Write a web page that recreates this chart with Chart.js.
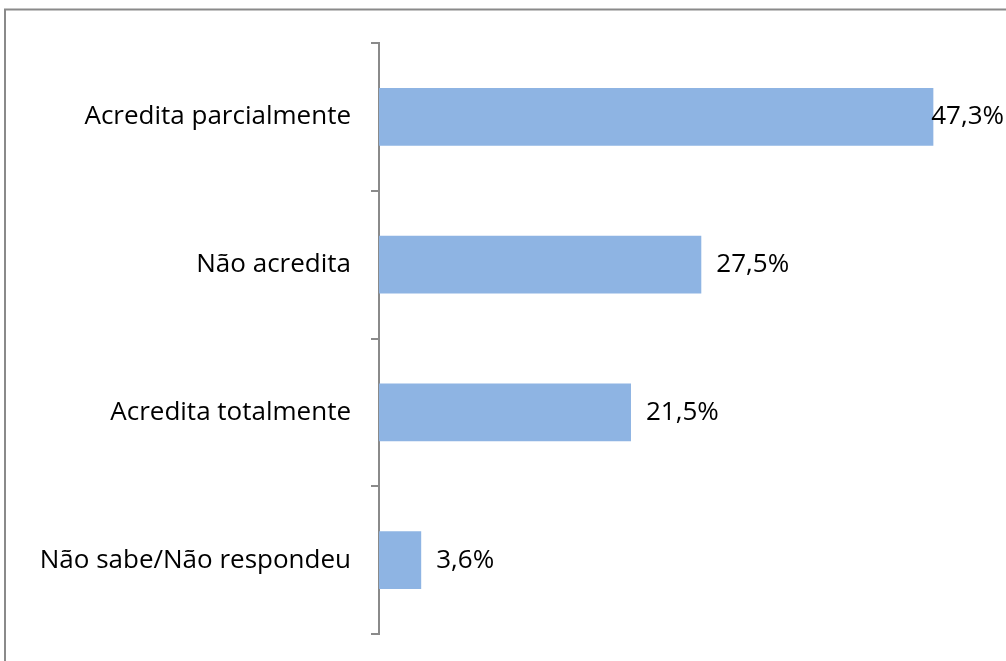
<!DOCTYPE html>
<html lang="pt">
<head>
    <meta charset="UTF-8">
    <title>Acredita</title>
    <script src="https://cdn.jsdelivr.net/npm/chart.js"></script>
    <style>
        html, body { margin: 0; padding: 0; background: #fff; }
        #wrap { width: 1006px; height: 661px; position: relative; }
    </style>
</head>
<body>
    <div id="wrap"><canvas id="chart"></canvas></div>
    <script>
        // Dados do gráfico
        const categories = ['Acredita parcialmente', 'Não acredita', 'Acredita totalmente', 'Não sabe/Não respondeu'];
        const values = [47.3, 27.5, 21.5, 3.6];
        const valueLabels = ['47,3%', '27,5%', '21,5%', '3,6%'];

        const fontFamily = '"Open Sans", Lato, sans-serif';
        const fontSize = 26;

        // Moldura cinza em volta do gráfico
        const framePlugin = {
            id: 'frame',
            beforeDraw(chart) {
                const ctx = chart.ctx;
                ctx.save();
                ctx.strokeStyle = '#8a8a8a';
                ctx.lineWidth = 2;
                ctx.strokeRect(5, 9.5, 1100, 800);
                ctx.restore();
            }
        };

        // Rótulos de valor ao lado das barras
        const valueLabelPlugin = {
            id: 'valueLabels',
            afterDatasetsDraw(chart) {
                const ctx = chart.ctx;
                const meta = chart.getDatasetMeta(0);
                ctx.save();
                ctx.font = fontSize + 'px ' + fontFamily;
                ctx.fillStyle = '#000';
                ctx.textBaseline = 'middle';
                ctx.textAlign = 'left';
                meta.data.forEach((bar, i) => {
                    const txt = valueLabels[i];
                    const w = ctx.measureText(txt).width;
                    const x = Math.min(bar.x + 15, chart.width - w - 2);
                    ctx.fillText(txt, x, bar.y);
                });
                ctx.restore();
            }
        };

        new Chart(document.getElementById('chart'), {
            type: 'bar',
            data: {
                labels: categories,
                datasets: [{
                    data: values,
                    backgroundColor: '#8eb4e3',
                    borderWidth: 0,
                    barPercentage: 0.78,
                    categoryPercentage: 0.5
                }]
            },
            options: {
                indexAxis: 'y',
                responsive: true,
                maintainAspectRatio: false,
                animation: false,
                layout: {
                    padding: { top: 43, bottom: 27, left: 0, right: 41 }
                },
                scales: {
                    x: {
                        display: false,
                        min: 0,
                        max: 50
                    },
                    y: {
                        afterFit(scale) {
                            scale.width = 379;
                            scale.paddingTop = 0;
                            scale.paddingBottom = 0;
                        },
                        border: { display: true, color: '#8a8a8a', width: 2 },
                        grid: {
                            offset: true,
                            drawOnChartArea: false,
                            drawTicks: true,
                            tickLength: 8,
                            color: '#8a8a8a',
                            lineWidth: 2
                        },
                        ticks: {
                            color: '#000',
                            padding: 20,
                            font: { family: fontFamily, size: fontSize }
                        }
                    }
                },
                plugins: {
                    legend: { display: false },
                    tooltip: { enabled: false }
                }
            },
            plugins: [framePlugin, valueLabelPlugin]
        });
    </script>
</body>
</html>
